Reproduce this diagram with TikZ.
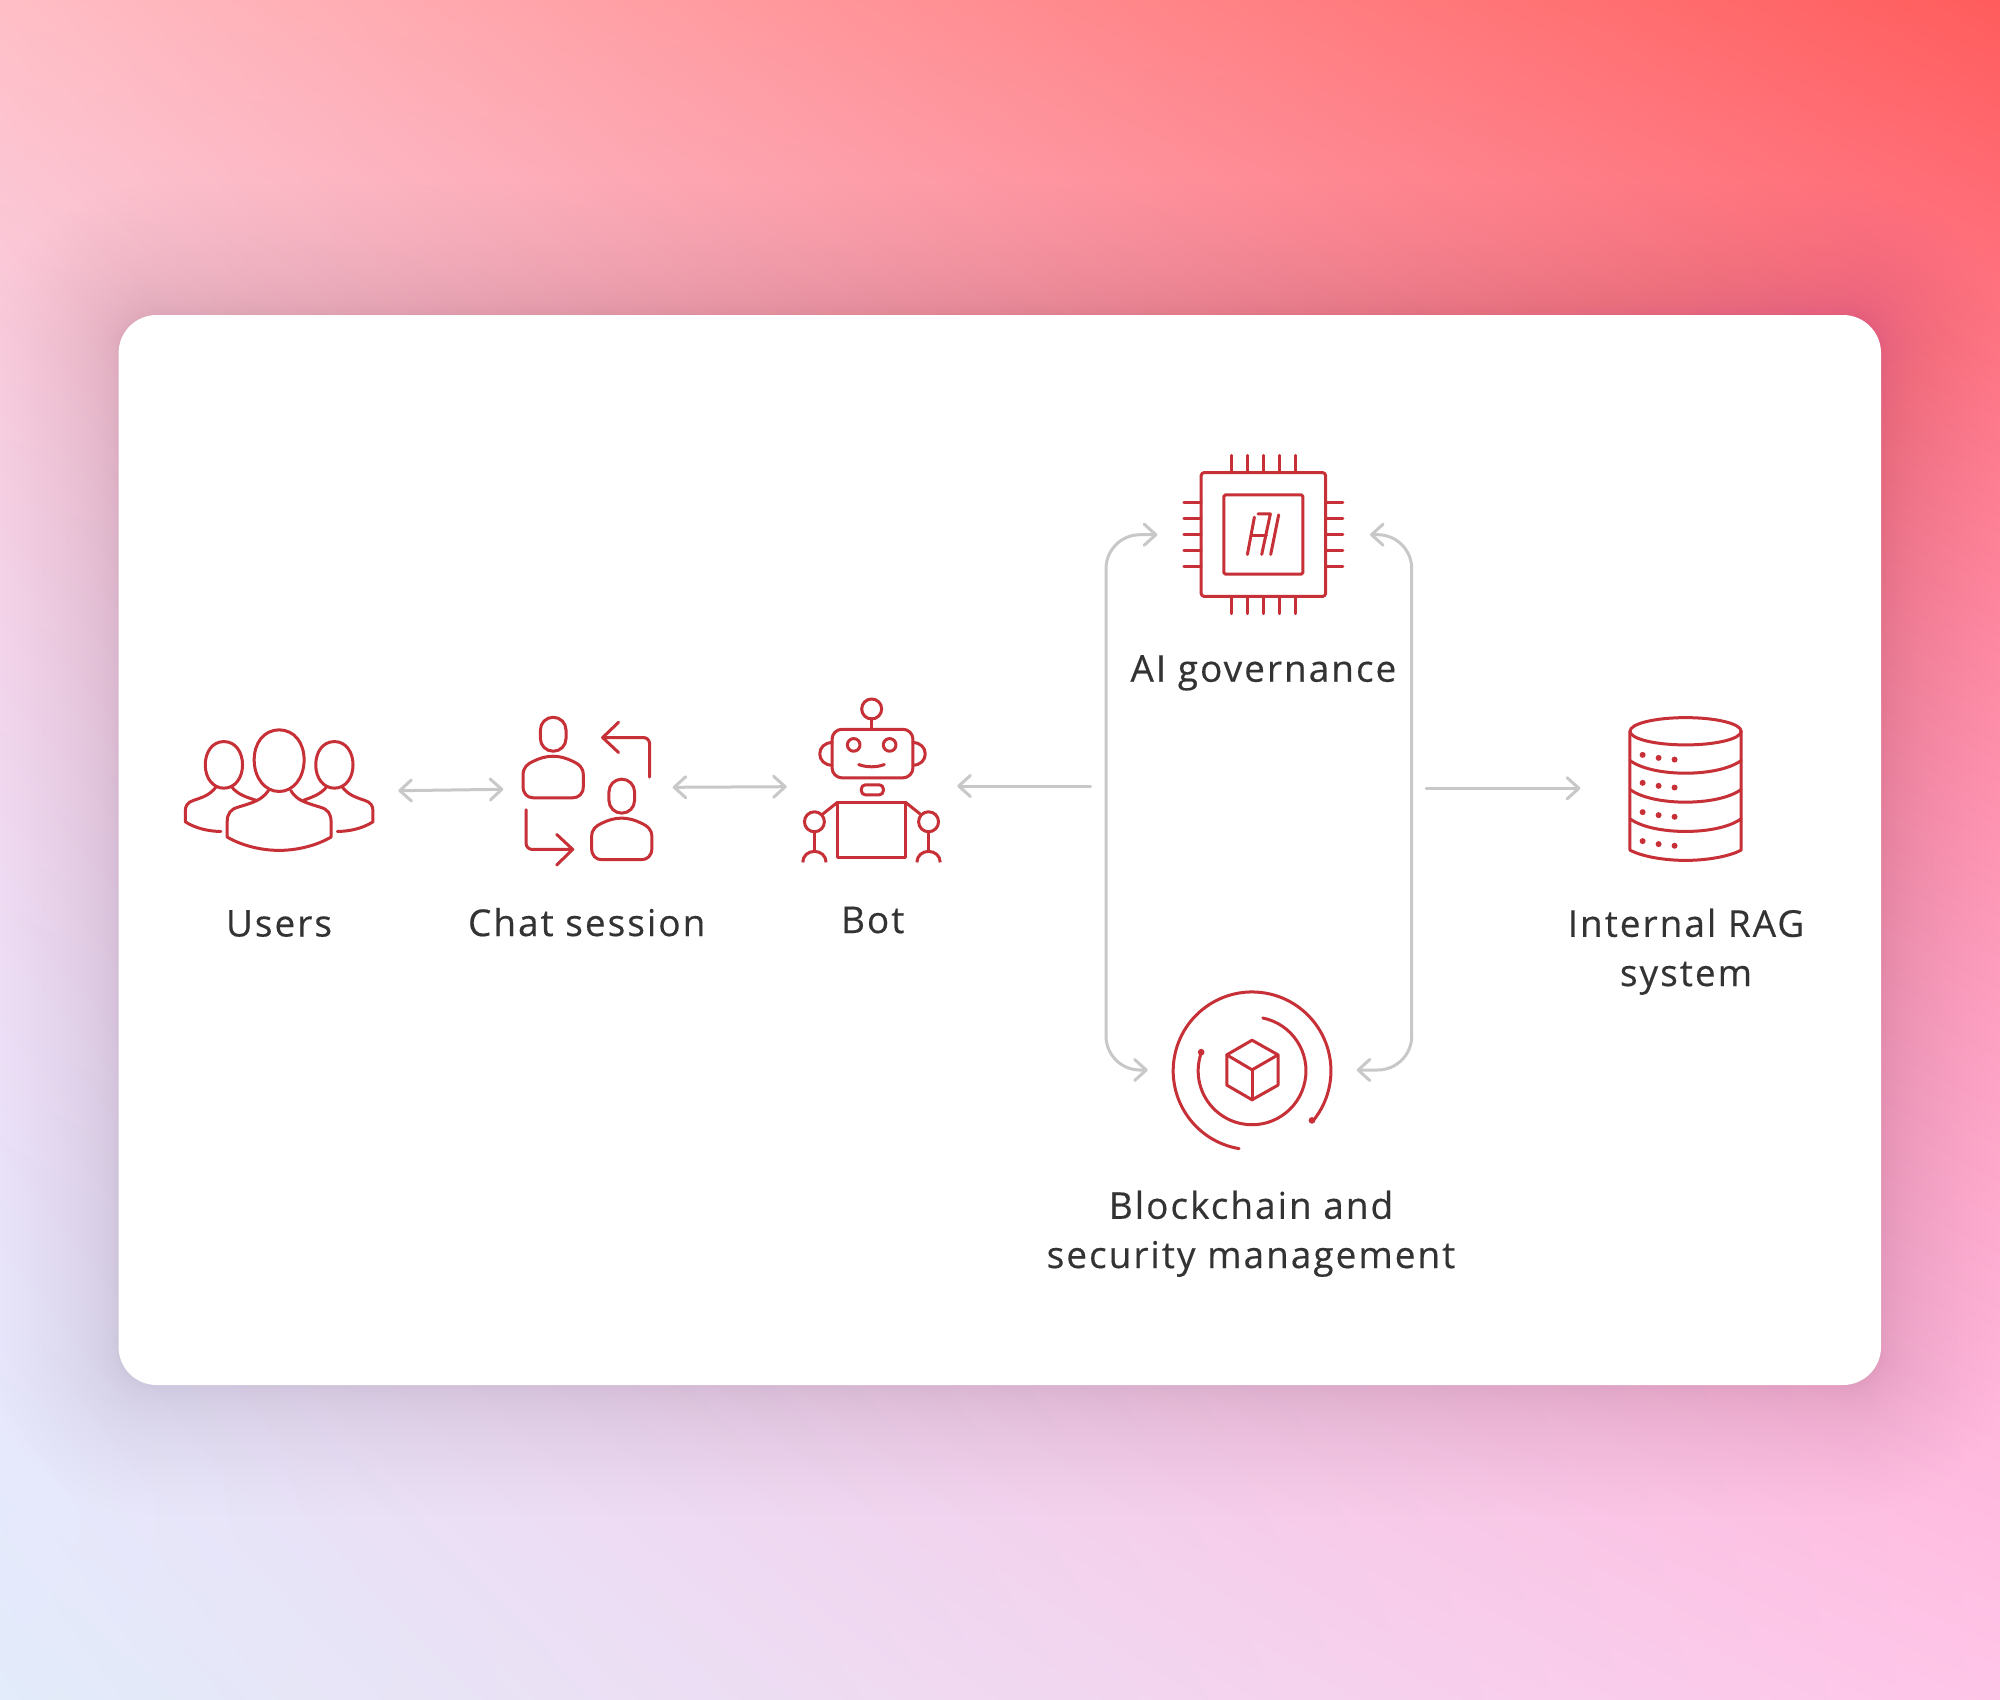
\documentclass[tikz,border=0pt]{standalone}
\usepackage{fontspec}
\setmainfont[LetterSpace=5.5,FakeBold=0.4]{Open Sans}
\usetikzlibrary{arrows.meta}
\definecolor{iconred}{RGB}{198,48,54}
\definecolor{linegray}{RGB}{200,200,200}
\definecolor{labelink}{RGB}{51,51,51}
\definecolor{shadowc}{RGB}{85,50,125}
\pgfdeclarefunctionalshading{bggrad}{\pgfpoint{-50bp}{-50bp}}{\pgfpoint{50bp}{50bp}}{}{
50 div 0.5 add exch 50 div 0.5 add
2 copy mul -0.114 mul 2 index 0.114 mul add 1 index 0.114 mul add 0.886 add 3 1 roll
2 copy mul -0.232 mul 2 index -0.18 mul add 1 index -0.152 mul add 0.925 add
2 index dup 1 exch sub mul 0.1 mul add 3 1 roll
2 copy mul -0.344 mul 2 index -0.205 mul add 1 index -0.07 mul add 0.98 add
2 index dup 1 exch sub mul 0.3 mul add 3 1 roll
pop pop
}
\tikzset{
  zoomed/.style 2 args={shift={(#1,#2)},x=0.0033333cm,y=-0.0033333cm},
  icon/.style={draw=iconred,line width=0.03cm,line join=round,line cap=round},
  dotfill/.style={fill=iconred,draw=none},
  link/.style={draw=linegray,line width=0.03cm,line cap=round,
    arrows={-},>={Straight Barb[length=3.3pt,width=6pt,round]}},
  label/.style={text=labelink,font=\fontsize{10.5}{14}\selectfont,align=center,anchor=base,inner sep=0pt}
}
\begin{document}
\begin{tikzpicture}[x=0.01cm,y=-0.01cm]
\useasboundingbox (0,0) rectangle (2000,1700);
\shade[shading=bggrad] (0,0) rectangle (2000,1700);
\begin{scope}
\clip (0,0) rectangle (2000,1700);
\foreach \i in {1,...,30}{
  \pgfmathsetmacro{\off}{130*(\i/30)^2}
  \fill[shadowc,opacity=0.005,rounded corners={(38+\off)*0.01cm}]
    ({118.6-\off},{315-\off}) rectangle ({1881+\off},{1385+\off});
}
\end{scope}
\fill[white,rounded corners=0.38cm] (118.6,315) rectangle (1881,1385);

% Connector end points
\coordinate (usersE) at (398.3,790.7);
\coordinate (chatW) at (503.3,789.3);
\coordinate (chatE) at (672.7,787.3);
\coordinate (botW) at (786.7,786.7);
\coordinate (botE) at (957.3,786);
\coordinate (hubW) at (1090.7,786);
\coordinate (hubE) at (1426,788.3);
\coordinate (ragW) at (1580.3,788.3);
\coordinate (govW) at (1157.3,534.7);
\coordinate (govE) at (1370,534.7);
\coordinate (chainW) at (1147.7,1070);
\coordinate (chainE) at (1356.7,1070);
\coordinate (loopTL) at (1106,534.7);
\coordinate (loopBL) at (1106,1070);
\coordinate (loopTR) at (1411.7,534.7);
\coordinate (loopBR) at (1411.7,1070);

\draw[link,<->] (usersE) -- (chatW);
\draw[link,<->] (chatE) -- (botW);
\draw[link,->] (hubW) -- (botE);
\draw[link,->] (hubE) -- (ragW);
\draw[link,<->,rounded corners=0.34cm] (govW) -- (loopTL) -- (loopBL) -- (chainW);
\draw[link,<->,rounded corners=0.34cm] (govE) -- (loopTR) -- (loopBR) -- (chainE);

% Users and Chat session icons
\begin{scope}[zoomed={160}{680}]
  \draw[icon] (358,150) .. controls (405,150) and (433,190) .. (433,240) .. controls (433,295) and (400,335) .. (358,335) .. controls (316,335) and (283,295) .. (283,240) .. controls (283,190) and (311,150) .. (358,150) -- cycle;
  \draw[icon] (192,185) .. controls (228,185) and (248,218) .. (248,255) .. controls (248,295) and (225,325) .. (192,325) .. controls (159,325) and (136,295) .. (136,255) .. controls (136,218) and (156,185) .. (192,185) -- cycle;
  \draw[icon] (524,185) .. controls (560,185) and (580,218) .. (580,255) .. controls (580,295) and (557,325) .. (524,325) .. controls (491,325) and (468,295) .. (468,255) .. controls (468,218) and (488,185) .. (524,185) -- cycle;
  \draw[icon] (326,332) .. controls (305,362) and (280,368) .. (235,382) .. controls (212,388) and (202,402) .. (202,425) -- (202,472) .. controls (250,500) and (310,512) .. (358,512) .. controls (406,512) and (466,500) .. (514,472) -- (514,425) .. controls (514,402) and (504,388) .. (481,382) .. controls (436,368) and (411,362) .. (393,332);
  \draw[icon] (168,322) .. controls (150,345) and (130,352) .. (100,362) .. controls (82,368) and (76,378) .. (76,395) -- (76,426) .. controls (105,445) and (145,455) .. (183,455);
  \draw[icon] (216,322) .. controls (235,345) and (260,352) .. (290,362);
  \draw[icon] (548,322) .. controls (566,345) and (586,352) .. (616,362) .. controls (634,368) and (640,378) .. (640,395) -- (640,426) .. controls (611,445) and (571,455) .. (533,455);
  \draw[icon] (500,322) .. controls (481,345) and (456,352) .. (430,362);
  % chat persons
  \foreach \dx/\dy in {0/0,206/186}{
    \begin{scope}[shift={(\dx,\dy)}]
      \draw[icon,rounded corners=0.127cm] (1143,112) rectangle (1220,214);
      \draw[icon] (1091,320) -- (1091,285) .. controls (1091,262) and (1105,252) .. (1120,245) .. controls (1140,235) and (1160,229) .. (1181,229) .. controls (1202,229) and (1222,235) .. (1242,245) .. controls (1257,252) and (1272,262) .. (1272,285) -- (1272,320) .. controls (1272,342) and (1258,354) .. (1240,354) -- (1122,354) .. controls (1104,354) and (1091,342) .. (1091,320) -- cycle;
    \end{scope}
  }
  \draw[icon,rounded corners=0.06cm] (1471,292) -- (1471,173) -- (1330,173);
  \draw[icon] (1378,127) -- (1330,173) -- (1378,218);
  \draw[icon,rounded corners=0.06cm] (1100,390) -- (1100,509) -- (1240,509);
  \draw[icon] (1192,464) -- (1240,509) -- (1192,556);
\end{scope}

% Bot icon
\begin{scope}[zoomed={660}{680}]
  \draw[icon] (636,87) circle[radius=30];
  \draw[icon] (636,117) -- (636,148);
  \draw[icon,rounded corners=0.1cm] (517,148) rectangle (760,294);
  \draw[icon] (517,188) .. controls (495,188) and (480,203) .. (480,222) .. controls (480,241) and (495,256) .. (517,256);
  \draw[icon] (760,188) .. controls (782,188) and (797,203) .. (797,222) .. controls (797,241) and (782,256) .. (760,256);
  \draw[icon] (582,195) circle[radius=19];
  \draw[icon] (690,195) circle[radius=19];
  \draw[icon] (597,254) .. controls (620,263) and (652,263) .. (674,254);
  \draw[icon,rounded corners=0.04cm] (605,315) rectangle (671,345);
  \draw[icon] (534,367) rectangle (737,533);
  \draw[icon] (534,367) -- (490,402);
  \draw[icon] (737,367) -- (781,402);
  \draw[icon] (464,426) circle[radius=30];
  \draw[icon] (807,426) circle[radius=30];
  \draw[icon] (464,456) -- (464,515);
  \draw[icon] (807,456) -- (807,515);
  \draw[icon,line cap=butt] (429,548) .. controls (429,528) and (445,515) .. (464,515) .. controls (483,515) and (499,528) .. (499,548);
  \draw[icon,line cap=butt] (772,548) .. controls (772,528) and (788,515) .. (807,515) .. controls (826,515) and (842,528) .. (842,548);
\end{scope}

% Chip icon
\begin{scope}[zoomed={1080}{430}]
  \draw[icon,rounded corners=0.03cm] (364,128) rectangle (738,500);
  \draw[icon,rounded corners=0.015cm] (432,195) rectangle (670,433);
  \foreach \p in {454,502,550,598,646}{
    \draw[icon] (\p,76) -- (\p,128);
    \draw[icon] (\p,500) -- (\p,552);
  }
  \foreach \p in {217,266,314,362,411}{
    \draw[icon] (312,\p) -- (364,\p);
    \draw[icon] (738,\p) -- (790,\p);
  }
  \draw[icon] (524,262) -- (503,374);
  \draw[icon] (535,252) -- (572,252) -- (546,374);
  \draw[icon] (515,317) -- (560,317);
  \draw[icon] (597,255) -- (573,374);
\end{scope}

% Blockchain icon
\begin{scope}[zoomed={1080}{960}]
  \draw[icon] (517,333) ++(-260.5:237) arc[start angle=-260.5,end angle=39.6,radius=237];
  \draw[icon] (517,333) ++(-78.5:162) arc[start angle=-78.5,end angle=200,radius=162];
  \fill[dotfill] (697,482) circle[radius=10];
  \fill[dotfill] (364,277) circle[radius=10];
  \draw[icon] (517,241) -- (595,285) -- (595,376) -- (517,420) -- (441,376) -- (441,285) -- cycle;
  \draw[icon] (441,285) -- (517,330) -- (595,285);
  \draw[icon] (517,330) -- (517,420);
\end{scope}

% Database icon
\begin{scope}[zoomed={1400}{690}]
  \draw[icon] (858,124) ellipse[x radius=167,y radius=41];
  \draw[icon] (691,124) -- (691,481) .. controls (730,502) and (800,512) .. (858,512) .. controls (916,512) and (986,502) .. (1025,481) -- (1025,124);
  \foreach \a/\b in {212/250,299/337,387/425}{
    \draw[icon] (691,\a) .. controls (730,{\a+28}) and (800,\b) .. (858,\b) .. controls (916,\b) and (986,{\a+28}) .. (1025,\a);
  }
  \foreach \d in {0,84,172,259}{
    \fill[dotfill] (729,195+\d) circle[radius=9];
    \fill[dotfill] (777,204+\d) circle[radius=9];
    \fill[dotfill] (825,209+\d) circle[radius=9];
  }
\end{scope}

% Labels
\node[label] (usersLabel) at (279,936.5) {Users};
\node[label] (chatLabel) at (586.7,936) {Chat session};
\node[label] (botLabel) at (872.7,933) {Bot};
\node[label] (govLabel) at (1263.4,681.7) {AI governance};
\node[label] (chainLabel) at (1251,1268) {Blockchain and\\security management};
\node[label] (ragLabel) at (1686,986) {Internal RAG\\system};
\end{tikzpicture}
\end{document}
